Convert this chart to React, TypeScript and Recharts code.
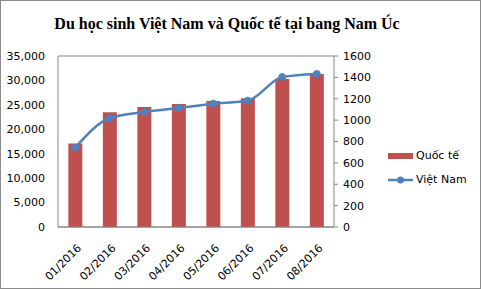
import { ComposedChart, Bar, Line, XAxis, YAxis, CartesianGrid } from 'recharts'

const months = ['01/2016', '02/2016', '03/2016', '04/2016', '05/2016', '06/2016', '07/2016', '08/2016']
const quocTe = [17100, 23500, 24550, 25150, 25800, 26350, 30300, 31300]
const vietNam = [742, 1020, 1076, 1113, 1154, 1182, 1403, 1432]
const leftTicks = [0, 5000, 10000, 15000, 20000, 25000, 30000, 35000]
const rightTicks = [0, 200, 400, 600, 800, 1000, 1200, 1400, 1600]

const data = months.map((m, i) => ({ month: m, quocTe: quocTe[i], vietNam: vietNam[i] }))

const BAR = '#C0504D'
const LINE = '#4F81BD'
const AXIS = '#868686'
const FONT = 'DejaVu Sans'

function MonthTick({ x, y, payload }: any) {
  const ax = x + 4
  const ay = y + 11
  return (
    <text
      x={ax}
      y={ay}
      transform={`rotate(-45, ${ax}, ${ay})`}
      textAnchor="end"
      dy="0.35em"
      fontFamily={FONT}
      fontSize={11}
      fill="#000"
    >
      {payload.value}
    </text>
  )
}

export default function App() {
  return (
    <div
      style={{
        position: 'absolute',
        left: 0,
        top: 0,
        width: 481,
        height: 289,
        border: '1px solid #8c8c8c',
        boxSizing: 'border-box',
        background: '#fff',
        overflow: 'hidden',
      }}
    >
      <div
        style={{
          position: 'absolute',
          left: 0,
          top: 14,
          width: 452,
          textAlign: 'center',
          fontFamily: 'Liberation Serif',
          fontWeight: 'bold',
          fontSize: 16,
          color: '#000',
        }}
      >
        Du học sinh Việt Nam và Quốc tế tại bang Nam Úc
      </div>
      <div style={{ position: 'absolute', left: -1, top: -1 }}>
        <ComposedChart
          width={481}
          height={289}
          data={data}
          margin={{ top: 56, right: 0, bottom: 0, left: 0 }}
          barCategoryGap="30%"
        >
          <CartesianGrid vertical={false} stroke={AXIS} strokeWidth={1} />
          <XAxis
            dataKey="month"
            height={62}
            interval={0}
            tickLine={false}
            stroke={AXIS}
            tick={<MonthTick />}
          />
          <YAxis
            yAxisId="left"
            width={58}
            domain={[0, 35000]}
            ticks={leftTicks}
            tickFormatter={(v: number) => v.toLocaleString('en-US')}
            tickLine={false}
            tickSize={5}
            tickMargin={8}
            stroke={AXIS}
            tick={{ fill: '#000', fontFamily: FONT, fontSize: 11 }}
          />
          <YAxis
            yAxisId="right"
            orientation="right"
            width={147}
            domain={[0, 1600]}
            ticks={rightTicks}
            tickSize={4}
            tickMargin={5}
            stroke={AXIS}
            tick={{ fill: '#000', fontFamily: FONT, fontSize: 11, textAnchor: 'start' }}
          />
          <Bar yAxisId="left" dataKey="quocTe" fill={BAR} isAnimationActive={false} />
          <Line
            yAxisId="right"
            type="monotone"
            dataKey="vietNam"
            stroke={LINE}
            strokeWidth={2.5}
            dot={{ r: 3.5, fill: LINE, stroke: LINE, strokeWidth: 1 }}
            isAnimationActive={false}
          />
        </ComposedChart>
      </div>
      <div
        style={{
          position: 'absolute',
          left: 387,
          top: 143,
          fontFamily: FONT,
          fontSize: 11,
          color: '#000',
          lineHeight: '24px',
        }}
      >
        <div style={{ display: 'flex', alignItems: 'center' }}>
          <span style={{ width: 25, height: 6, background: BAR, display: 'inline-block', marginRight: 3 }} />
          Quốc tế
        </div>
        <div style={{ display: 'flex', alignItems: 'center' }}>
          <svg width={25} height={10} style={{ marginRight: 3 }}>
            <line x1={0} y1={5} x2={25} y2={5} stroke={LINE} strokeWidth={2.5} />
            <circle cx={12.5} cy={5} r={3.5} fill={LINE} />
          </svg>
          Việt Nam
        </div>
      </div>
    </div>
  )
}
